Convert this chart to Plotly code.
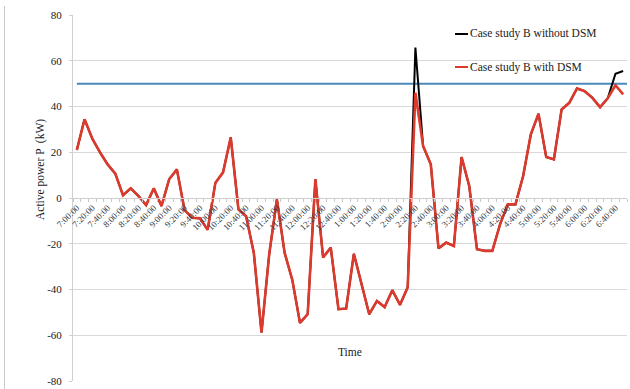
import plotly.graph_objects as go

# ---------------- data ----------------
times = []
for k in range(72):
    h = 7 + (k * 10) // 60
    m = (k * 10) % 60
    h12 = h if h <= 12 else h - 12
    times.append(f"{h12}:{m:02d}:00")

tick_labels = [t if i % 2 == 0 else "" for i, t in enumerate(times)]

without_dsm = [21, 34.4, 26, 20, 14.7, 10.6, 1.2, 4.2, 0.9, -3.1,
               4.2, -3.5, 8.2, 12.5, -5.3, -8.6, -8.9, -13.9, 6.6, 11.2,
               26.5, -5, -8, -24, -58.8, -24.6, -0.6, -23.9, -35.8, -54.6,
               -50.8, 8.3, -26, -21.7, -48.6, -48.3, -24.4, -37.7, -50.8, -45,
               -47.7, -40.3, -46.7, -39, 65.8, 22.7, 14.7, -22, -19.5, -21,
               17.9, 5.2, -22.4, -23.1, -23.1, -11.5, -2.8, -2.8, 9.6, 27.8,
               36.8, 17.9, 16.9, 38.7, 41.6, 47.9, 46.7, 43.8, 39.7, 43.6,
               54.3, 55.5]

with_dsm = [21, 34.4, 26, 20, 14.7, 10.6, 1.2, 4.2, 0.9, -3.1,
            4.2, -3.5, 8.2, 12.5, -5.3, -8.6, -8.9, -13.9, 6.6, 11.2,
            26.5, -5, -8, -24, -58.8, -24.6, -0.6, -23.9, -35.8, -54.6,
            -50.8, 8.3, -26, -21.7, -48.6, -48.3, -24.4, -37.7, -50.8, -45,
            -47.7, -40.3, -46.7, -39, 46, 22.7, 14.7, -22, -19.5, -21,
            17.9, 5.2, -22.4, -23.1, -23.1, -11.5, -2.8, -2.8, 9.6, 27.8,
            36.8, 17.9, 16.9, 38.7, 41.6, 47.9, 46.7, 43.8, 39.7, 43.6,
            49.3, 45.3]

limit_kw = 50
y_ticks = [-80, -60, -40, -20, 0, 20, 40, 60, 80]
y_tick_text = [str(v) for v in y_ticks]

# ---------------- layout helpers ----------------
W, H = 630, 389
ML, MR, MT, MB = 73, 3, 15, 8
PW, PH = W - ML - MR, H - MT - MB


def px(x):
    return (x - ML) / PW


def py(y):
    return (H - MB - y) / PH


FONT = "Liberation Serif, Times New Roman, serif"
RED = "#db3a2c"
BLACK = "#000000"
BLUE = "#4a88bd"
GRID = "#d9d9d9"

fig = go.Figure()
fig.add_trace(go.Scatter(x=times, y=without_dsm, mode="lines",
                         line=dict(color=BLACK, width=2),
                         name="Case study B without DSM", showlegend=False))
fig.add_trace(go.Scatter(x=times, y=with_dsm, mode="lines",
                         line=dict(color=RED, width=2.6),
                         name="Case study B with DSM", showlegend=False))

shapes = [
    dict(type="line", xref="x", yref="y", x0=0, x1=71.5, y0=limit_kw, y1=limit_kw,
         line=dict(color=BLUE, width=2), layer="between"),
    # legend samples
    dict(type="line", xref="paper", yref="paper", x0=px(455), x1=px(468),
         y0=py(34), y1=py(34), line=dict(color=BLACK, width=2)),
    dict(type="line", xref="paper", yref="paper", x0=px(455), x1=px(468),
         y0=py(67), y1=py(67), line=dict(color=RED, width=2)),
    # outer chart frame (left edge)
    dict(type="line", xref="paper", yref="paper", x0=px(4.5), x1=px(4.5),
         y0=py(6), y1=py(389), line=dict(color="#c8c8cc", width=1)),
]

annotations = [
    dict(text="Case study B without DSM", xref="paper", yref="paper",
         x=px(468), y=py(34), xanchor="left", yanchor="middle", showarrow=False,
         font=dict(family=FONT, size=11.5, color="#1a1a1a")),
    dict(text="Case study B with DSM", xref="paper", yref="paper",
         x=px(468), y=py(67), xanchor="left", yanchor="middle", showarrow=False,
         font=dict(family=FONT, size=11.5, color="#1a1a1a")),
    dict(text="Active power P  (kW)", xref="paper", yref="paper",
         x=px(40), y=py(170), textangle=-90, xanchor="center", yanchor="middle",
         showarrow=False, font=dict(family=FONT, size=11.5, color="#1a1a1a")),
    dict(text="Time", xref="paper", yref="paper",
         x=px(350), y=py(352), xanchor="center", yanchor="middle",
         showarrow=False, font=dict(family=FONT, size=11.5, color="#1a1a1a")),
]

fig.update_layout(
    width=W, height=H,
    margin=dict(l=ML, r=MR, t=MT, b=MB, pad=0),
    paper_bgcolor="white", plot_bgcolor="white",
    showlegend=False,
    shapes=shapes, annotations=annotations,
    xaxis=dict(type="category", categoryorder="array", categoryarray=times,
               range=[-0.5, 71.5], anchor="free", position=0.5,
               tickmode="array", tickvals=times, ticktext=tick_labels,
               tickangle=-45, tickson="boundaries",
               ticks="outside", ticklen=3, tickcolor="#c8c8c8",
               showline=True, linecolor="#cfcfcf", linewidth=1,
               showgrid=False, zeroline=False,
               tickfont=dict(family=FONT, size=9, color="#333a46")),
    yaxis=dict(range=[-80, 80], tickmode="array", tickvals=y_ticks,
               ticktext=y_tick_text, showgrid=True, gridcolor=GRID, gridwidth=1,
               zeroline=False, showline=True, linecolor="#d0d0d0",
               ticks="outside", ticklen=3, tickcolor="#d0d0d0",
               ticklabelstandoff=5,
               tickfont=dict(family=FONT, size=11, color="#1a1a1a")),
)

fig.write_html(
    "out.html",
    config={"displayModeBar": False},
    post_script="document.body.style.margin='0';document.body.style.overflow='hidden';",
)
